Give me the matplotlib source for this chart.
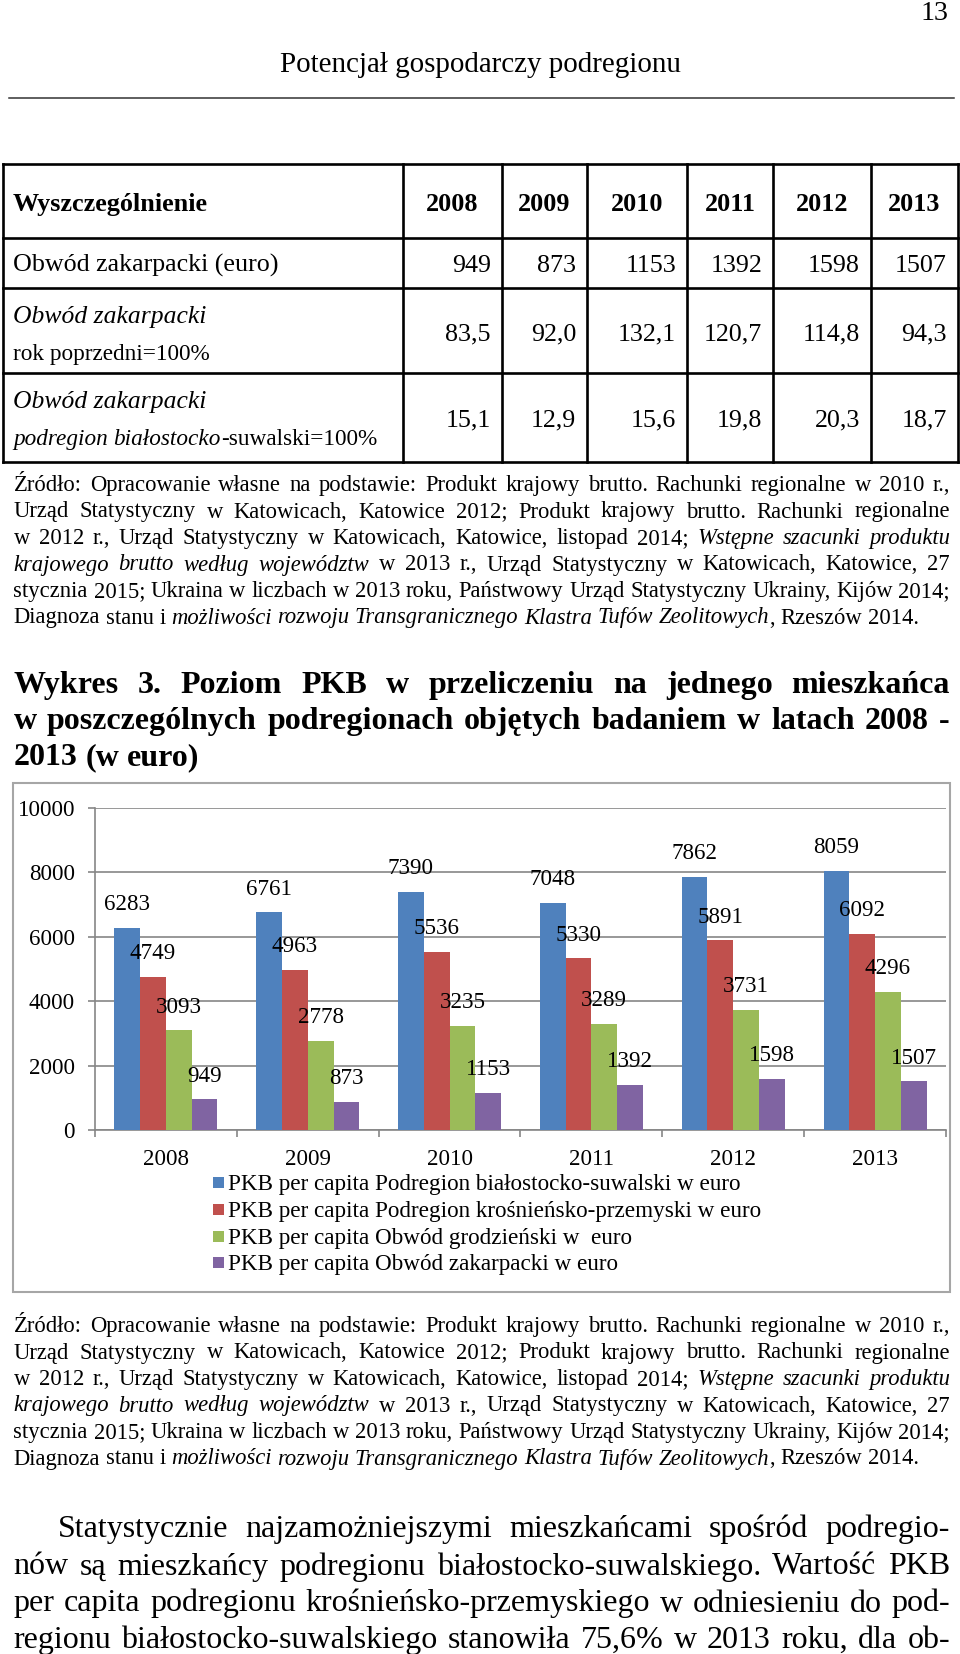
import matplotlib
matplotlib.use('Agg')
import matplotlib.pyplot as plt
from matplotlib.patches import Rectangle
from matplotlib.lines import Line2D
import numpy as np

FONT = 'Liberation Serif'
W, H = 960, 1654

# ---------------- data ----------------
years = ['2008', '2009', '2010', '2011', '2012', '2013']
bialostocko = [6283, 6761, 7390, 7048, 7862, 8059]
krosniensko = [4749, 4963, 5536, 5330, 5891, 6092]
grodzienski = [3093, 2778, 3235, 3289, 3731, 4296]
zakarpacki = [949, 873, 1153, 1392, 1598, 1507]
zak_prev_year = [83.5, 92.0, 132.1, 120.7, 114.8, 94.3]
zak_vs_bial = [15.1, 12.9, 15.6, 19.8, 20.3, 18.7]
series_labels = [
    'PKB per capita Podregion białostocko-suwalski w euro',
    'PKB per capita Podregion krośnieńsko-przemyski w euro',
    'PKB per capita Obwód grodzieński w  euro',
    'PKB per capita Obwód zakarpacki w euro',
]
series_colors = ['#4F81BD', '#C0504D', '#9BBB59', '#8064A2']
y_ticks = [0, 2000, 4000, 6000, 8000, 10000]

src_lines = [
    [("Źródło: Opracowanie własne na podstawie:  Produkt krajowy brutto. Rachunki regionalne w 2010 r.,", 'n')],
    [("Urząd Statystyczny w Katowicach, Katowice 2012; Produkt krajowy brutto.  Rachunki regionalne", 'n')],
    [("w 2012 r.,  Urząd Statystyczny w Katowicach, Katowice, listopad 2014; ", 'n'), ("Wstępne szacunki produktu", 'i')],
    [("krajowego brutto według województw", 'i'), (" w 2013 r., Urząd Statystyczny w Katowicach, Katowice, 27", 'n')],
    [("stycznia 2015; Ukraina w liczbach w 2013 roku, Państwowy Urząd Statystyczny Ukrainy, Kijów 2014;", 'n')],
    [("Diagnoza stanu i ", 'n'), ("możliwości rozwoju Transgranicznego Klastra Tufów Zeolitowych", 'i'), (", Rzeszów 2014.", 'n')],
]
title_lines = [
    "Wykres 3. Poziom PKB w przeliczeniu na jednego mieszkańca",
    "w poszczególnych podregionach objętych badaniem w latach 2008 -",
    "2013 (w euro)",
]
par_lines = [
    "Statystycznie najzamożniejszymi mieszkańcami spośród podregio-",
    "nów są mieszkańcy podregionu białostocko-suwalskiego. Wartość PKB",
    "per capita podregionu krośnieńsko-przemyskiego w odniesieniu do pod-",
    "regionu białostocko-suwalskiego stanowiła 75,6% w 2013 roku, dla ob-",
]

# ---------------- helpers ----------------
fig = plt.figure(figsize=(W / 100, H / 100), dpi=100)
renderer = fig.canvas.get_renderer()


def fx(x):
    return x / W


def fy(y):
    return 1 - y / H


STY = {'n': dict(weight='normal', style='normal'),
       'i': dict(weight='normal', style='italic'),
       'b': dict(weight='bold', style='normal')}
_cache = {}


def measure(s, size, st='n'):
    key = (s, round(size, 4), st)
    if key not in _cache:
        t = fig.text(0, 0, s, fontsize=size, family=FONT, **STY[st])
        _cache[key] = t.get_window_extent(renderer).width
        t.remove()
    return _cache[key]


def fit(s, target, st='n'):
    return 20 * target / measure(s, 20, st)


def space_w(size, st='n'):
    return measure('n n', size, st) - measure('nn', size, st)


def tokenize(segs):
    words = []
    new_word = True
    for txt, st in segs:
        parts = txt.split(' ')
        for k, p in enumerate(parts):
            if k > 0:
                new_word = True
            if p == '':
                continue
            if new_word or not words:
                words.append([(p, st)])
                new_word = False
            else:
                words[-1].append((p, st))
    return words


def natural_width(segs, size):
    words = tokenize(segs)
    return sum(measure(p, size, st) for w in words for p, st in w) + space_w(size) * (len(words) - 1)


def draw_line(segs, x0, x1, base, size, justify=True):
    words = tokenize(segs)
    ww = [sum(measure(p, size, st) for p, st in w) for w in words]
    if justify and len(words) > 1:
        gap = (x1 - x0 - sum(ww)) / (len(words) - 1)
    else:
        gap = space_w(size)
    x = x0
    for w, wd in zip(words, ww):
        xx = x
        for p, st in w:
            fig.text(fx(xx), fy(base), p, fontsize=size, family=FONT,
                     ha='left', va='baseline', **STY[st])
            xx += measure(p, size, st)
        x += wd + gap


def hline(y, x0, x1, lw=1.8, color='black'):
    fig.add_artist(Line2D([fx(x0), fx(x1)], [fy(y), fy(y)], transform=fig.transFigure,
                          lw=lw, color=color, solid_capstyle='projecting'))


def vline(x, y0, y1, lw=1.8, color='black'):
    fig.add_artist(Line2D([fx(x), fx(x)], [fy(y0), fy(y1)], transform=fig.transFigure,
                          lw=lw, color=color, solid_capstyle='projecting'))


# ---------------- page header ----------------
s13 = fit('13', 28)
fig.text(fx(948), fy(20), '13', fontsize=s13, family=FONT, ha='right', va='baseline')
s_head = fit('Potencjał gospodarczy podregionu', 401)
fig.text(fx(480), fy(72), 'Potencjał gospodarczy podregionu', fontsize=s_head,
         family=FONT, ha='center', va='baseline')
hline(98, 9, 954, lw=1.1, color='#333333')

# ---------------- table ----------------
col_x = [3, 403, 502, 587, 687, 773, 871, 958]
row_y = [164, 238, 288, 373, 462]
for y in row_y:
    hline(y, col_x[0], col_x[-1], lw=1.9)
for x in col_x:
    vline(x, row_y[0], row_y[-1], lw=1.9)

s_hdr = fit('Wyszczególnienie', 195, 'b')
fig.text(fx(13), fy(211), 'Wyszczególnienie', fontsize=s_hdr, family=FONT,
         ha='left', va='baseline', **STY['b'])
for k, yr in enumerate(years):
    cx = (col_x[k + 1] + col_x[k + 2]) / 2
    fig.text(fx(cx), fy(211), yr, fontsize=s_hdr, family=FONT, ha='center',
             va='baseline', **STY['b'])

s_cell = fit('Obwód zakarpacki (euro)', 266)
fig.text(fx(13), fy(272), 'Obwód zakarpacki (euro)', fontsize=s_cell, family=FONT,
         ha='left', va='baseline')
s_it = fit('Obwód zakarpacki', 193, 'i')
s_small = fit('rok poprzedni=100%', 197)
fig.text(fx(13), fy(323), 'Obwód zakarpacki', fontsize=s_it, family=FONT,
         ha='left', va='baseline', **STY['i'])
fig.text(fx(13), fy(360), 'rok poprzedni=100%', fontsize=s_small, family=FONT,
         ha='left', va='baseline')
fig.text(fx(13), fy(408), 'Obwód zakarpacki', fontsize=s_it, family=FONT,
         ha='left', va='baseline', **STY['i'])
draw_line([('podregion białostocko', 'i'), ('-suwalski=100%', 'n')], 13, 400, 445,
          s_small, justify=False)


def fmt_pl(v):
    return f'{v:.1f}'.replace('.', ',')


rows = [([str(v) for v in zakarpacki], 272),
        ([fmt_pl(v) for v in zak_prev_year], 340),
        ([fmt_pl(v) for v in zak_vs_bial], 426)]
for vals, base in rows:
    for k, v in enumerate(vals):
        fig.text(fx(col_x[k + 2] - 11), fy(base), v, fontsize=s_cell, family=FONT,
                 ha='right', va='baseline')

# ---------------- source blocks ----------------
s_src = 20 * 906 / natural_width(src_lines[-1], 20)


def draw_source(bases):
    for i, (segs, b) in enumerate(zip(src_lines, bases)):
        draw_line(segs, 13.5, 950, b, s_src, justify=(i < len(src_lines) - 1))


draw_source([491, 517.5, 544, 570.5, 597, 623.5])
draw_source([1332, 1358.5, 1385, 1411.5, 1438, 1464.5])

# ---------------- chart title ----------------
s_title = fit(title_lines[-1], 186, 'b')
for i, (ln, b) in enumerate(zip(title_lines, [693, 729.5, 765])):
    draw_line([(ln, 'b')], 13.5, 950, b, s_title, justify=(i < 2))

# ---------------- paragraph ----------------
targets = [950 - 58, 950 - 13.5, 950 - 13.5, 950 - 13.5]
s_par = min(20 * t / natural_width([(ln, 'n')], 20) for ln, t in zip(par_lines, targets)) * 0.99
for i, (ln, b) in enumerate(zip(par_lines, [1537, 1574.5, 1611.5, 1648])):
    draw_line([(ln, 'n')], 58 if i == 0 else 13.5, 950, b, s_par, justify=True)

# ---------------- chart ----------------
fig.add_artist(Rectangle((fx(13), fy(1292)), (950 - 13) / W, (1292 - 783) / H,
                         transform=fig.transFigure, fill=False, ec='#A6A6A6', lw=1.5))

s_lbl = fit('10000', 57)
ax = fig.add_axes([fx(95), fy(1130), (946 - 95) / W, (1130 - 808) / H])
ax.set_facecolor('none')
x = np.arange(len(years))
bw = 1 / 5.5
series = [bialostocko, krosniensko, grodzienski, zakarpacki]
for i, (vals, col) in enumerate(zip(series, series_colors)):
    pos = x + (i - 1.5) * bw
    ax.bar(pos, vals, width=bw, color=col, linewidth=0, zorder=3)
    for px_, v in zip(pos, vals):
        ax.annotate(str(v), (px_, v), xytext=(0, 12.8), textcoords='offset points',
                    ha='center', va='baseline', fontsize=s_lbl, family=FONT, zorder=5)

ax.set_xlim(-0.5, 5.5)
ax.set_ylim(0, 10000)
ax.set_yticks(y_ticks)
ax.set_yticklabels([str(t) for t in y_ticks], fontsize=s_lbl, family=FONT)
ax.set_xticks(x)
ax.set_xticklabels(years, fontsize=s_lbl, family=FONT)
ax.set_xticks(np.arange(-0.5, 6, 1), minor=True)
ax.yaxis.grid(True, color='#868686', lw=1.2, zorder=0)
ax.set_axisbelow(True)
ax.tick_params(axis='x', which='major', length=0, pad=14)
ax.tick_params(axis='x', which='minor', length=5, width=1.2, color='#868686', direction='out')
ax.tick_params(axis='y', length=5, width=1.2, color='#868686', direction='out', pad=9.4)
for side in ['top', 'right']:
    ax.spines[side].set_visible(False)
for side in ['left', 'bottom']:
    ax.spines[side].set_color('#868686')
    ax.spines[side].set_linewidth(1.2)

# legend (manual placement)
s_leg = fit(series_labels[0], 512)
for lab, col, b in zip(series_labels, series_colors, [1190, 1217, 1244, 1270]):
    fig.add_artist(Rectangle((fx(213), fy(b - 2)), 11 / W, 11 / H,
                             transform=fig.transFigure, fc=col, ec='none'))
    fig.text(fx(228), fy(b), lab, fontsize=s_leg, family=FONT, ha='left', va='baseline')

fig.savefig('out.png', dpi=100)
